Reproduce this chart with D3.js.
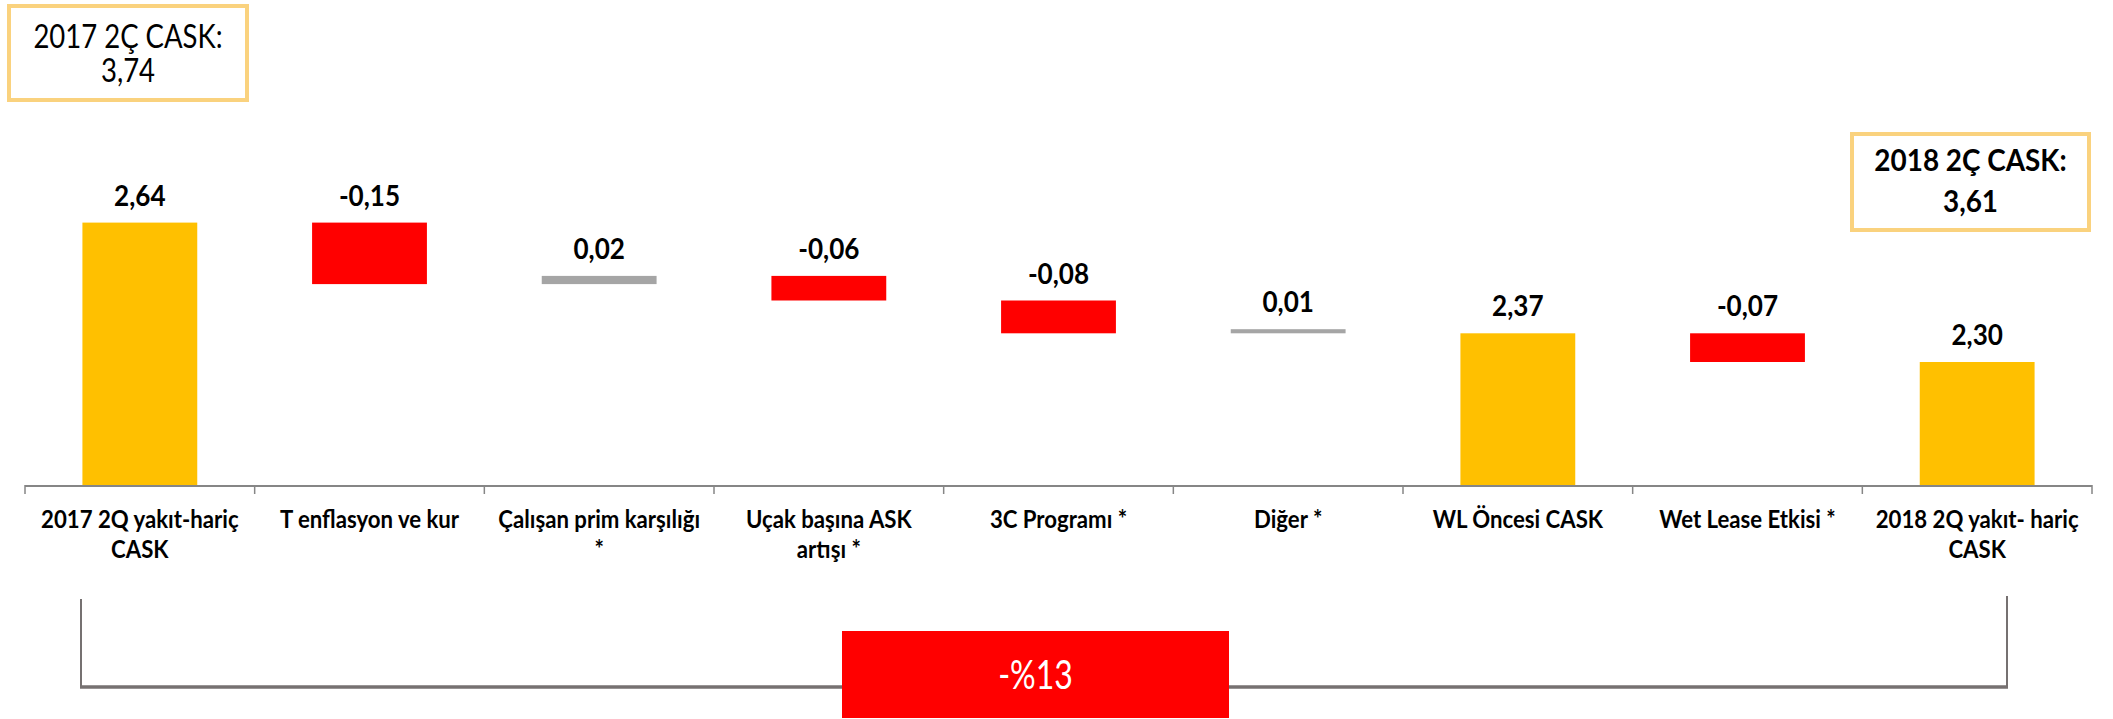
<!DOCTYPE html>
<html><head><meta charset="utf-8">
<script src="https://cdn.jsdelivr.net/npm/d3@7"></script>
<style>
html,body{margin:0;padding:0;background:#fff;}
svg{display:block;}
text{font-family:Lato,'Open Sans',sans-serif;}
</style></head><body>
<svg id="chart" width="2113" height="719"></svg>
<script>
// ---- data ----
const categories = [
  "2017 2Q yakıt-hariç\nCASK",
  "T enflasyon ve kur",
  "Çalışan prim karşılığı\n*",
  "Uçak başına ASK\nartışı *",
  "3C Programı *",
  "Diğer *",
  "WL Öncesi CASK",
  "Wet Lease Etkisi *",
  "2018 2Q yakıt- hariç\nCASK"
];
const values = [2.64, -0.15, 0.02, -0.06, -0.08, 0.01, 2.37, -0.07, 2.30];
const kinds  = ["total","delta","delta","delta","delta","delta","total","delta","total"];
const startBoxLines = ["2017 2Ç CASK:", 3.74];
const endBoxLines   = ["2018 2Ç CASK:", 3.61];
const changePct = -13;
const yDomain = [2.0, 2.7];

// ---- setup ----
const svg = d3.select("#chart");
const loc = d3.formatLocale({decimal:",", thousands:".", grouping:[3], currency:["",""], minus:"-"});
const fmt = loc.format(".2f");

const axisY = 485;
const x = d3.scaleBand().domain(categories).range([25, 2092]).paddingInner(0.5).paddingOuter(0.25);
const y = d3.scaleLinear().domain(yDomain).range([axisY, axisY - 0.7*410]);

// condensed text helper (mimics a narrow font)
function ctext(sel, cx, by, str, fs, weight, sx, fill){
  return sel.append("text")
    .attr("transform", `translate(${cx},${by}) scale(${sx},1)`)
    .attr("text-anchor", "middle")
    .attr("font-size", fs)
    .attr("font-weight", weight)
    .attr("fill", fill || "#000")
    .text(str);
}

// waterfall
let running = 0;
const bars = values.map((v,i) => {
  let a, b;
  if (kinds[i] === "total") { a = yDomain[0]; b = v; running = v; }
  else { a = running; b = running + v; running = b; }
  const color = kinds[i] === "total" ? "#FFC000" : (v < 0 ? "#FF0000" : "#A5A5A5");
  return {cat: categories[i], v, lo: Math.min(a,b), hi: Math.max(a,b), color};
});

svg.append("g").selectAll("rect").data(bars).join("rect")
  .attr("x", d => x(d.cat))
  .attr("width", x.bandwidth())
  .attr("y", d => y(d.hi))
  .attr("height", d => y(d.lo) - y(d.hi))
  .attr("fill", d => d.color);

const vl = svg.append("g");
bars.forEach(d => ctext(vl, x(d.cat) + x.bandwidth()/2, y(d.hi) - 17, fmt(d.v), 29, 700, 0.9));

// axis
const ax = svg.append("g");
ax.append("line").attr("x1", 25).attr("x2", 2092).attr("y1", axisY+1).attr("y2", axisY+1)
  .attr("stroke", "#868686").attr("stroke-width", 2);
const bounds = d3.range(categories.length + 1).map(i => 25 + i * x.step());
ax.selectAll("line.tick").data(bounds).join("line").attr("class","tick")
  .attr("x1", d => d).attr("x2", d => d).attr("y1", axisY).attr("y2", axisY + 9)
  .attr("stroke", "#868686").attr("stroke-width", 1.5);

const lg = svg.append("g");
categories.forEach(d => {
  d.split("\n").forEach((line, k) => ctext(lg, x(d) + x.bandwidth()/2, 528 + k*30, line, 25.5, 700, 0.87));
});

// boxes
function box(x0, y0, w, h, lines, bold, fs, sx, baselines){
  const g = svg.append("g");
  g.append("rect").attr("x", x0).attr("y", y0).attr("width", w).attr("height", h)
    .attr("fill", "#fff").attr("stroke", "#FAD27E").attr("stroke-width", 4);
  lines.forEach((l, k) => ctext(g, x0 + w/2, baselines[k], typeof l === "number" ? fmt(l) : l, fs, bold ? 700 : 400, sx));
}
box(9, 6, 238, 94, startBoxLines, false, 32, 0.86, [48, 82]);
box(1852, 134, 237, 96, endBoxLines, true, 31, 0.9, [171, 212]);

// bracket
const br = svg.append("g").attr("stroke", "#767171").attr("fill", "none");
br.append("line").attr("x1", 81).attr("x2", 81).attr("y1", 599).attr("y2", 688).attr("stroke-width", 2);
br.append("line").attr("x1", 2007).attr("x2", 2007).attr("y1", 596).attr("y2", 688).attr("stroke-width", 2);
br.append("line").attr("x1", 80).attr("x2", 2008).attr("y1", 687).attr("y2", 687).attr("stroke-width", 3.5);

svg.append("rect").attr("x", 842).attr("y", 631).attr("width", 387).attr("height", 87).attr("fill", "#FF0000");
ctext(svg, 842 + 387/2, 689, "-%" + Math.abs(changePct), 40, 400, 0.8, "#fff");
</script>
</body></html>
